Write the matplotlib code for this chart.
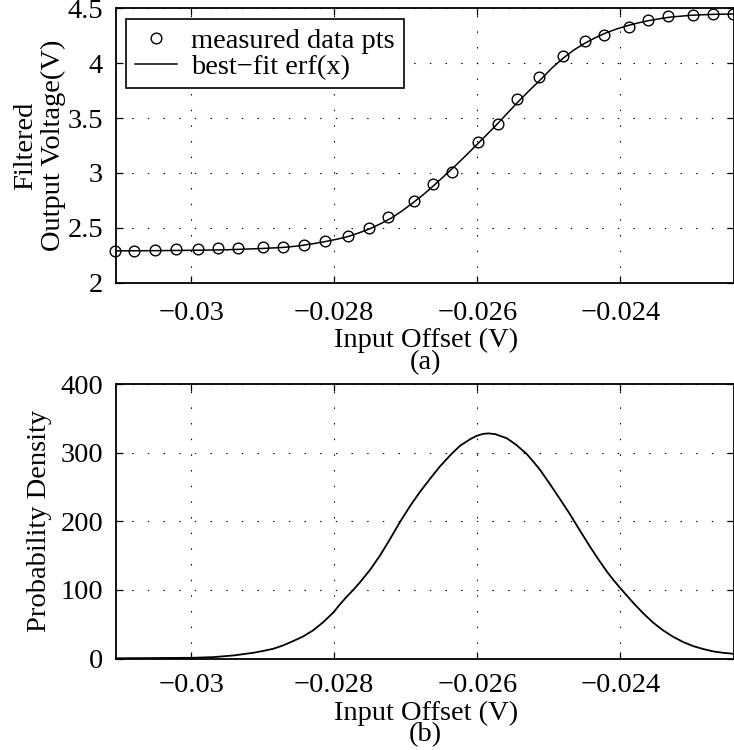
import matplotlib
matplotlib.use("Agg")
import matplotlib.pyplot as plt

# ---------------- data ----------------
meas_x = [-0.03107, -0.03080, -0.03051, -0.03022, -0.02990, -0.02963, -0.02934,
          -0.02900, -0.02872, -0.02843, -0.02813, -0.02781, -0.02752, -0.02725,
          -0.02688, -0.02662, -0.02635, -0.02599, -0.02571, -0.02544, -0.02514,
          -0.02480, -0.02450, -0.02423, -0.02388, -0.02361, -0.02333, -0.02298,
          -0.02270, -0.02242]
meas_y = [2.291, 2.291, 2.298, 2.304, 2.310, 2.313, 2.316,
          2.322, 2.325, 2.343, 2.377, 2.428, 2.498, 2.596,
          2.746, 2.896, 3.011, 3.279, 3.448, 3.676, 3.871,
          4.065, 4.199, 4.253, 4.332, 4.393, 4.432, 4.441,
          4.447, 4.447]

fit_x = [-0.03107, -0.03050, -0.03000, -0.02950, -0.02900, -0.02870, -0.02850,
         -0.02830, -0.02810, -0.02795, -0.02780, -0.02765, -0.02750, -0.02735,
         -0.02720, -0.02705, -0.02690, -0.02675, -0.02660, -0.02645, -0.02630,
         -0.02615, -0.02600, -0.02585, -0.02570, -0.02555, -0.02540, -0.02525,
         -0.02510, -0.02495, -0.02480, -0.02465, -0.02450, -0.02435, -0.02420,
         -0.02405, -0.02390, -0.02375, -0.02360, -0.02345, -0.02330, -0.02300,
         -0.02270, -0.02242]
fit_y = [2.290, 2.292, 2.295, 2.300, 2.312, 2.322, 2.335,
         2.355, 2.378, 2.398, 2.422, 2.455, 2.492, 2.538,
         2.590, 2.655, 2.728, 2.805, 2.890, 2.980, 3.070,
         3.165, 3.262, 3.360, 3.460, 3.565, 3.668, 3.765,
         3.860, 3.960, 4.045, 4.120, 4.180, 4.232, 4.276,
         4.312, 4.342, 4.367, 4.388, 4.405, 4.420, 4.437,
         4.445, 4.448]

pdf_x = [-0.03106, -0.029994, -0.029692, -0.029413, -0.029133, -0.028997, -0.028853,
         -0.028717, -0.028573, -0.028438, -0.028294, -0.028154, -0.028014, -0.027920,
         -0.027827, -0.027734, -0.027641, -0.027501, -0.027361, -0.027221, -0.027081,
         -0.026941, -0.026801, -0.026660, -0.026522, -0.026380, -0.026242, -0.026101,
         -0.026008, -0.025919, -0.025846, -0.025751, -0.025589, -0.025457, -0.025309,
         -0.025218, -0.025123, -0.024983, -0.024842, -0.024703, -0.024562, -0.024424,
         -0.024310, -0.024190, -0.024101, -0.024004, -0.023818, -0.023681, -0.023538,
         -0.023401, -0.023259, -0.023121, -0.022979, -0.022841, -0.022699, -0.022562,
         -0.022420]
pdf_y = [0.3, 1.0, 2.0, 4.4, 8.3, 11.0, 14.2,
         19.0, 25.5, 32.0, 41.2, 53.0, 67.0, 79.0,
         90.0, 100.0, 111.0, 129.0, 150.0, 174.0, 199.0,
         222.0, 243.0, 262.0, 280.0, 296.0, 310.0, 319.5,
         324.5, 327.3, 328.0, 327.0, 321.0, 311.5, 298.0,
         287.0, 275.0, 254.0, 232.0, 210.0, 186.0, 163.0,
         145.0, 127.0, 115.0, 103.0, 81.0, 66.0, 52.0,
         41.0, 31.5, 24.0, 18.0, 13.8, 10.3, 8.3,
         6.9]

xtick_vals = [-0.030, -0.028, -0.026, -0.024]
xtick_labels = ["\u22120.03", "\u22120.028", "\u22120.026", "\u22120.024"]
top_yticks = [2, 2.5, 3, 3.5, 4, 4.5]
top_ytick_labels = ["2", "2.5", "3", "3.5", "4", "4.5"]
bot_yticks = [0, 100, 200, 300, 400]
bot_ytick_labels = ["0", "100", "200", "300", "400"]

x_limits = (-0.03106, -0.022417)

# ---------------- styling ----------------
plt.rcParams["font.family"] = ["Liberation Serif", "DejaVu Serif"]
FS = 20.5

W, H = 734, 750
fig = plt.figure(figsize=(W / 100, H / 100), dpi=100)
ax1 = fig.add_axes([115.5 / W, 1 - 282.7 / H, 618 / W, 274.4 / H])
ax2 = fig.add_axes([115.5 / W, 1 - 658.5 / H, 618 / W, 274.5 / H])


def style(ax, yticks, ylabels, xpad):
    ax.set_xlim(*x_limits)
    ax.set_xticks(xtick_vals, xtick_labels)
    ax.set_yticks(yticks, ylabels)
    ax.set_ylim(yticks[0], yticks[-1])
    ax.tick_params(direction="in", length=5, width=0.9, top=True, right=True,
                   labelsize=FS, colors="black")
    ax.tick_params(axis="x", pad=xpad)
    ax.tick_params(axis="y", pad=9)
    for s in ax.spines.values():
        s.set_linewidth(1.3)
        s.set_color("black")
    ax.grid(True, color="black", linestyle=(0, (1.3, 12.8)), linewidth=0.8)
    ax.set_axisbelow(True)


style(ax1, top_yticks, top_ytick_labels, 13)
style(ax2, bot_yticks, bot_ytick_labels, 10.5)

ax1.plot(meas_x, meas_y, linestyle="none", marker="o", markersize=7.7,
         markerfacecolor="none", markeredgecolor="black", markeredgewidth=1.0,
         clip_on=False, zorder=4, label="measured data pts")
ax1.plot(fit_x, fit_y, color="black", linewidth=1.1, zorder=3,
         label="best\u2212fit erf(x)")

leg = ax1.legend(loc="upper left", bbox_to_anchor=(0.017, 0.96), borderaxespad=0,
                 fontsize=FS, frameon=True, fancybox=False, edgecolor="black",
                 framealpha=1, borderpad=0.3, handlelength=1.5,
                 handletextpad=0.5, labelspacing=0.0)
leg.get_frame().set_linewidth(1.2)

ax2.plot(pdf_x, pdf_y, color="black", linewidth=1.3)

ax1.set_xlabel("Input Offset (V)\n(a)", fontsize=FS, linespacing=0.85)
ax1.xaxis.set_label_coords(0.502, -0.163)
ax2.set_xlabel("Input Offset (V)\n(b)", fontsize=FS, linespacing=0.8)
ax2.xaxis.set_label_coords(0.502, -0.153)

ax1.set_ylabel("Filtered\nOutput Voltage(V)", fontsize=FS, linespacing=1.15)
ax1.yaxis.set_label_coords(-0.0805, 0.5)
ax2.set_ylabel("Probability Density", fontsize=FS)
ax2.yaxis.set_label_coords(-0.103, 0.5)

fig.savefig("out.png", dpi=100)
